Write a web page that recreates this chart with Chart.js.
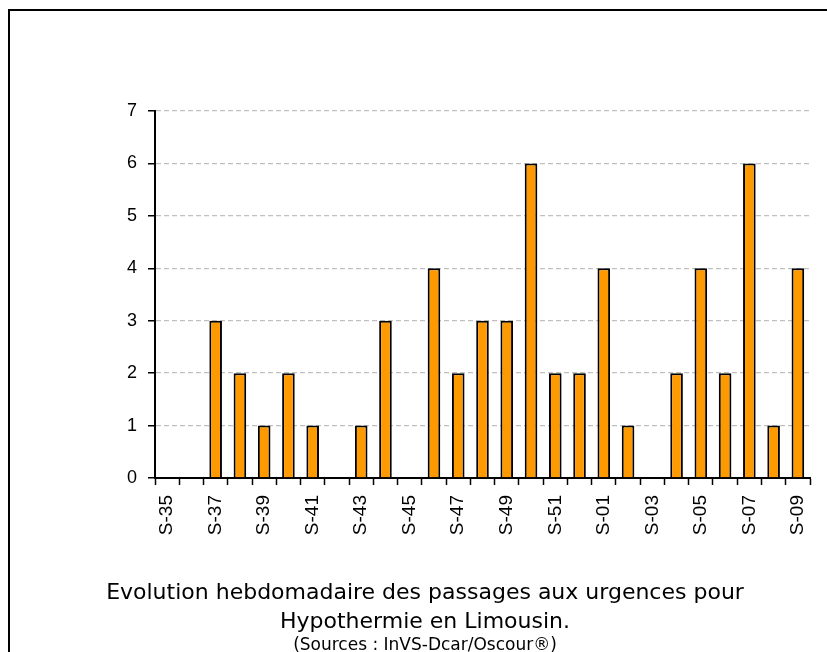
<!DOCTYPE html>
<html lang="fr">
<head>
  <meta charset="UTF-8" />
  <title>Hypothermie en Limousin</title>
  <script src="https://cdn.jsdelivr.net/npm/chart.js"></script>
  <style>
    html, body { margin: 0; padding: 0; background: #fff; overflow: hidden; }
    .page { position: relative; width: 827px; height: 652px; }
    .frame { position: absolute; left: 8px; top: 9px; width: 840px; height: 680px; border: 2.5px solid #000; box-sizing: border-box; }
    canvas { position: absolute; left: 0; top: 0; }
    .caption { position: absolute; left: 0; width: 850px; text-align: center; color: #000; font-family: 'DejaVu Sans', sans-serif; }
  </style>
</head>
<body>
<div class="page">
  <div class="frame"></div>
  <canvas id="chart" width="827" height="652"></canvas>
  <div class="caption" style="top:577px; font-size:22px; line-height:29px;">Evolution hebdomadaire des passages aux urgences pour<br>Hypothermie en Limousin.</div>
  <div class="caption" style="top:634px; font-size:17px;">(Sources : InVS-Dcar/Oscour®)</div>
</div>

<script>
  // weeks S-35 .. S-52 then S-01 .. S-09
  const weeks = ['S-35','S-36','S-37','S-38','S-39','S-40','S-41','S-42','S-43','S-44','S-45','S-46',
    'S-47','S-48','S-49','S-50','S-51','S-52','S-01','S-02','S-03','S-04','S-05','S-06','S-07','S-08','S-09'];
  const passages = [0,0,3,2,1,2,1,0,1,3,0,4,2,3,3,6,2,2,4,1,0,2,4,2,6,1,4];
  const yTicks = [0,1,2,3,4,5,6,7];

  new Chart(document.getElementById('chart'), {
    type: 'bar',
    data: {
      labels: weeks,
      datasets: [{
        data: passages,
        backgroundColor: '#FF9900',
        borderColor: '#000',
        // no outline on empty weeks
        borderWidth: ctx => ctx.raw === 0 ? 0 : 2,
        barPercentage: 0.52,
        categoryPercentage: 1
      }]
    },
    options: {
      responsive: false,
      animation: false,
      layout: { padding: { top: 111, right: 17, left: 0, bottom: 0 } },
      plugins: { legend: { display: false }, tooltip: { enabled: false } },
      scales: {
        x: {
          afterFit: s => { s.height = 174; s.paddingLeft = 0; s.paddingRight = 0; },
          grid: { offset: true, drawOnChartArea: false, tickLength: 7, tickColor: '#000', tickWidth: 1.5 },
          border: { color: '#000', width: 2 },
          ticks: {
            autoSkip: false, minRotation: 90, maxRotation: 90, padding: 10,
            color: '#000', font: { family: 'Liberation Sans', size: 19 },
            callback: (v, i) => i % 2 === 0 ? weeks[i] : ''
          }
        },
        y: {
          min: 0, max: 7,
          afterFit: s => { s.width = 155; },
          afterBuildTicks: s => { s.ticks = yTicks.map(v => ({ value: v })); },
          grid: { color: '#c0c0c0', lineWidth: 1.3, tickLength: 7, tickColor: '#000', tickWidth: 1.5, tickBorderDash: [1, 0] },
          border: { color: '#000', width: 2, dash: [5, 3] },
          ticks: { color: '#000', padding: 11, font: { family: 'Liberation Sans', size: 18 } }
        }
      }
    }
  });
</script>
</body>
</html>
